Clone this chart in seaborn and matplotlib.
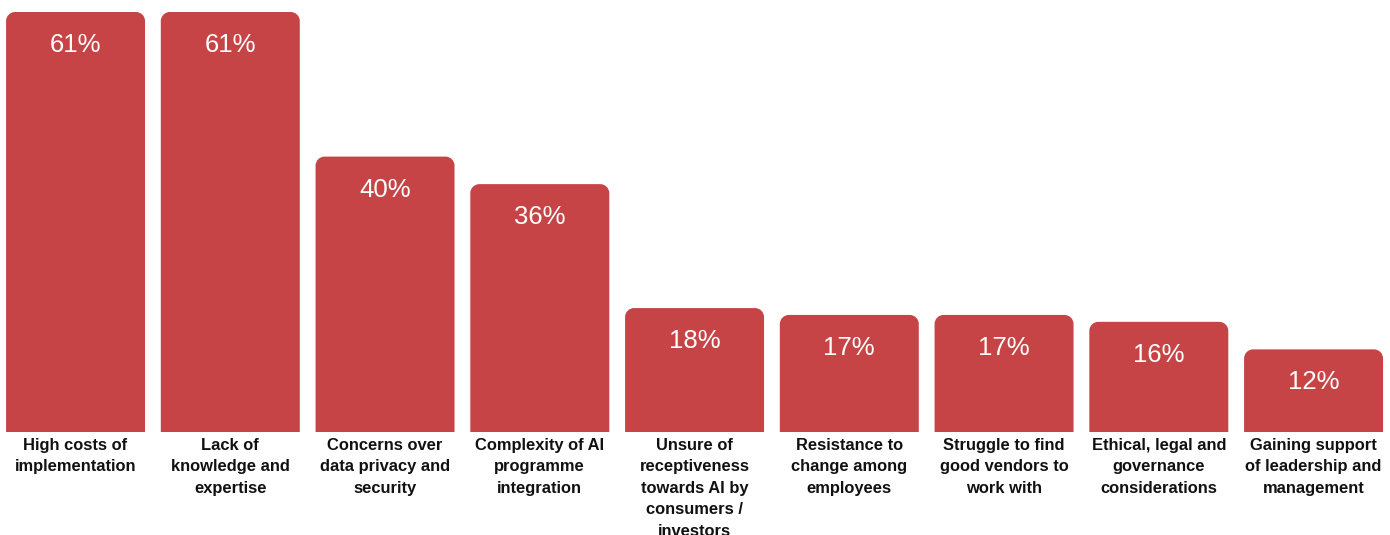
import matplotlib
matplotlib.use("Agg")
import matplotlib.pyplot as plt
import seaborn as sns
import pandas as pd
from matplotlib.patches import PathPatch
from matplotlib.path import Path
import matplotlib.transforms as mtransforms

categories = [
    "High costs of\nimplementation",
    "Lack of\nknowledge and\nexpertise",
    "Concerns over\ndata privacy and\nsecurity",
    "Complexity of AI\nprogramme\nintegration",
    "Unsure of\nreceptiveness\ntowards AI by\nconsumers /\ninvestors",
    "Resistance to\nchange among\nemployees",
    "Struggle to find\ngood vendors to\nwork with",
    "Ethical, legal and\ngovernance\nconsiderations",
    "Gaining support\nof leadership and\nmanagement",
]
values = [61, 61, 40, 36, 18, 17, 17, 16, 12]
value_labels = ["61%", "61%", "40%", "36%", "18%", "17%", "17%", "16%", "12%"]

BAR_COLOR = "#C74446"

sns.set_theme(style="white")
plt.rcParams["font.family"] = ["Liberation Sans", "DejaVu Sans"]

fig = plt.figure(figsize=(13.9, 5.35), dpi=100)
ax = fig.add_axes([5.9 / 1390, 103 / 535, 1377.3 / 1390, 420 / 535])

df = pd.DataFrame({"cat": categories, "val": values})
sns.barplot(data=df, x="cat", y="val", color=BAR_COLOR, saturation=1,
            width=0.898, ax=ax)

ax.set_ylim(0, 61)
ax.set_xlim(-0.45, 8.45)

# replace bars with rounded-top versions
radius_px = 9
bbox = ax.get_window_extent()
sx = (ax.get_xlim()[1] - ax.get_xlim()[0]) / bbox.width
sy = (ax.get_ylim()[1] - ax.get_ylim()[0]) / bbox.height
rx = radius_px * sx
ry = radius_px * sy
for p in list(ax.patches):
    x0, y0 = p.get_x(), p.get_y()
    w, h = p.get_width(), p.get_height()
    p.set_visible(False)
    x1, y1 = x0 + w, y0 + h
    k = 0.5523
    verts = [
        (x0, y0), (x0, y1 - ry),
        (x0, y1 - ry + k * ry), (x0 + rx - k * rx, y1), (x0 + rx, y1),
        (x1 - rx, y1),
        (x1 - rx + k * rx, y1), (x1, y1 - ry + k * ry), (x1, y1 - ry),
        (x1, y0), (x0, y0),
    ]
    codes = [Path.MOVETO, Path.LINETO,
             Path.CURVE4, Path.CURVE4, Path.CURVE4,
             Path.LINETO,
             Path.CURVE4, Path.CURVE4, Path.CURVE4,
             Path.LINETO, Path.CLOSEPOLY]
    ax.add_patch(PathPatch(Path(verts, codes), facecolor=BAR_COLOR,
                           edgecolor="none", clip_on=False))

# value labels inside bars
for i, (v, lab) in enumerate(zip(values, value_labels)):
    off = mtransforms.offset_copy(ax.transData, fig=fig, x=0, y=-33, units="dots")
    ax.text(i, v, lab, transform=off, ha="center", va="center",
            color="white", fontsize=18.5)

ax.set_xticks(range(len(categories)))
ax.set_xticklabels(categories, fontsize=11.9, fontweight="bold", color="#111111",
                   linespacing=1.55)
ax.tick_params(axis="x", length=0, pad=4)
ax.set_yticks([])
ax.set_xlabel("")
ax.set_ylabel("")
for s in ax.spines.values():
    s.set_visible(False)

fig.savefig("out.png", dpi=100)
